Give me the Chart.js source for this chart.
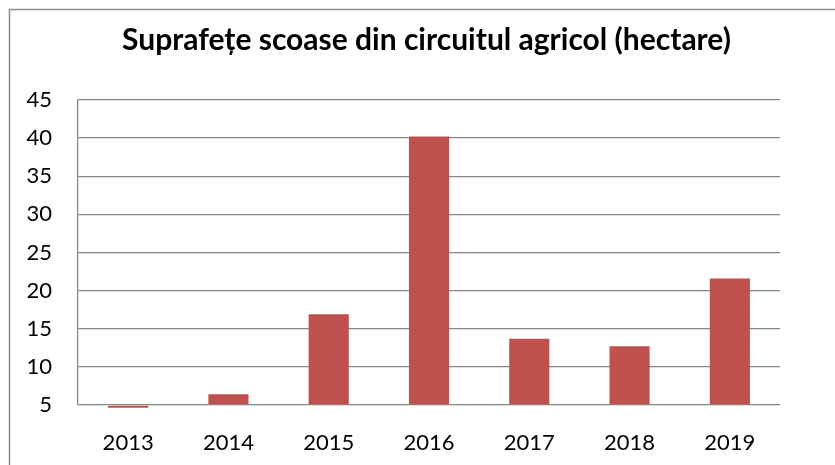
<!DOCTYPE html>
<html>
<head>
<meta charset="utf-8">
<script src="https://cdn.jsdelivr.net/npm/chart.js@4/dist/chart.umd.min.js"></script>
<style>
  html, body { margin: 0; padding: 0; background: #fff; }
  #wrap { width: 835px; height: 465px; }
</style>
</head>
<body>
<div id="wrap"><canvas id="c" width="835" height="465"></canvas></div>
<script>
const years = ['2013', '2014', '2015', '2016', '2017', '2018', '2019'];
const hectares = [4.65, 6.4, 16.9, 40.2, 13.7, 12.7, 21.6];
const yTicks = [5, 10, 15, 20, 25, 30, 35, 40, 45];
const chartTitle = 'Suprafețe scoase din circuitul agricol (hectare)';

const gridColor = '#878787';
const fontFamily = 'Lato, "Liberation Sans", sans-serif';

// outer frame of the chart object and the heading, centred on the frame
const framePlugin = {
  id: 'frame',
  beforeDraw(chart) {
    const ctx = chart.ctx;
    ctx.save();
    ctx.fillStyle = '#ffffff';
    ctx.fillRect(0, 0, chart.width, chart.height);
    ctx.strokeStyle = '#8c8c8c';
    ctx.lineWidth = 1.5;
    ctx.strokeRect(9.5, 9.5, 1000, 1000);
    ctx.fillStyle = '#000';
    ctx.font = 'bold 30px ' + fontFamily;
    ctx.textAlign = 'center';
    ctx.textBaseline = 'alphabetic';
    ctx.fillText(chartTitle, 426.5, 50);
    ctx.restore();
  }
};

new Chart(document.getElementById('c'), {
  type: 'bar',
  data: {
    labels: years,
    datasets: [{
      data: hectares,
      backgroundColor: '#C0504D',
      borderWidth: 0,
      barPercentage: 0.4,
      categoryPercentage: 1.0,
      base: 5,
      clip: false
    }]
  },
  options: {
    responsive: false,
    animation: false,
    layout: { padding: { left: 10, right: 55, top: 100, bottom: 8 } },
    plugins: {
      legend: { display: false },
      tooltip: { enabled: false },
      title: { display: false }
    },
    scales: {
      x: {
        afterFit(scale) { scale.height = 52; },
        grid: { display: false, drawTicks: false },
        border: { display: false },
        ticks: {
          color: '#000',
          padding: 25,
          font: { family: fontFamily, size: 22 }
        }
      },
      y: {
        min: 5,
        max: 45,
        afterBuildTicks(scale) {
          scale.ticks = yTicks.map(v => ({ value: v }));
        },
        afterFit(scale) { scale.width = 68; },
        grid: { color: gridColor, lineWidth: 1.3, drawTicks: false },
        border: { display: true, color: gridColor, width: 1.3 },
        ticks: {
          color: '#000',
          padding: 26,
          font: { family: fontFamily, size: 22 }
        }
      }
    }
  },
  plugins: [framePlugin]
});
</script>
</body>
</html>
